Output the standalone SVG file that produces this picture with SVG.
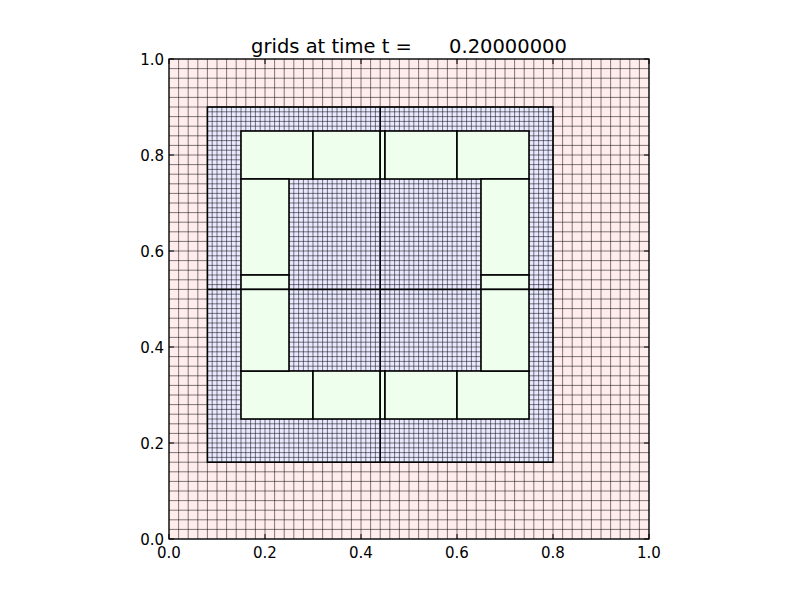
<svg xmlns="http://www.w3.org/2000/svg" width="800" height="600" viewBox="0 0 800 600">
<style>
.grid{fill:none;stroke:#000;stroke-width:0.6;stroke-opacity:0.85}
.pb{stroke:#000;stroke-width:1.6}
.l3{fill:#eeffee}
.tk{font-family:"DejaVu Sans","Liberation Sans",sans-serif;font-size:15px;fill:#000}
.tick{stroke:#000;stroke-width:1}
</style>
<defs>
<path id="l1v" class="grid" d="M0 0v480m9.6-480v480m9.6-480v480m9.6-480v480m9.6-480v480m9.6-480v480m9.6-480v480m9.6-480v480m9.6-480v480m9.6-480v480"/>
<path id="l1h" class="grid" d="M0 0h480m-480 9.6h480m-480 9.6h480m-480 9.6h480m-480 9.6h480m-480 9.6h480m-480 9.6h480m-480 9.6h480m-480 9.6h480m-480 9.6h480"/>
<path id="l2v" class="grid" d="M0 0v355.2m4.8-355.2v355.2m4.8-355.2v355.2m4.8-355.2v355.2m4.8-355.2v355.2m4.8-355.2v355.2m4.8-355.2v355.2m4.8-355.2v355.2m4.8-355.2v355.2m4.8-355.2v355.2"/>
<path id="l2h" class="grid" d="M0 0h345.6m-345.6 4.8h345.6m-345.6 4.8h345.6m-345.6 4.8h345.6m-345.6 4.8h345.6m-345.6 4.8h345.6m-345.6 4.8h345.6m-345.6 4.8h345.6m-345.6 4.8h345.6m-345.6 4.8h345.6"/>
<clipPath id="c1"><rect x="168" y="58" width="482" height="482"/></clipPath>
<clipPath id="c2"><rect x="207" y="106.6" width="346.4" height="356"/></clipPath>
</defs>
<rect width="800" height="600" fill="#fff"/>
<g id="level1">
<rect x="169" y="59" width="480" height="480" fill="#ffecec"/>
<g clip-path="url(#c1)">
<use href="#l1v" x="169" y="59"/><use href="#l1v" x="265" y="59"/><use href="#l1v" x="361" y="59"/><use href="#l1v" x="457" y="59"/><use href="#l1v" x="553" y="59"/><use href="#l1v" x="649" y="59"/>
<use href="#l1h" x="169" y="59"/><use href="#l1h" x="169" y="155"/><use href="#l1h" x="169" y="251"/><use href="#l1h" x="169" y="347"/><use href="#l1h" x="169" y="443"/><use href="#l1h" x="169" y="539"/>
</g>
</g>
<g id="level2">
<rect x="207.4" y="107" width="345.6" height="355.2" fill="#e8e8ff"/>
<g clip-path="url(#c2)">
<use href="#l2v" x="207.4" y="107"/><use href="#l2v" x="255.4" y="107"/><use href="#l2v" x="303.4" y="107"/><use href="#l2v" x="351.4" y="107"/><use href="#l2v" x="399.4" y="107"/><use href="#l2v" x="447.4" y="107"/><use href="#l2v" x="495.4" y="107"/><use href="#l2v" x="543.4" y="107"/>
<use href="#l2h" x="207.4" y="107"/><use href="#l2h" x="207.4" y="155"/><use href="#l2h" x="207.4" y="203"/><use href="#l2h" x="207.4" y="251"/><use href="#l2h" x="207.4" y="299"/><use href="#l2h" x="207.4" y="347"/><use href="#l2h" x="207.4" y="395"/><use href="#l2h" x="207.4" y="443"/>
</g>
<g fill="none" class="pb">
<rect x="207.4" y="107" width="345.6" height="355.2"/>
<path d="M380.2 107V462.2M207.4 289.4H553"/>
</g>
</g>
<g id="level3" class="l3 pb">
<rect x="241" y="131" width="72" height="48"/>
<rect x="313" y="131" width="67.2" height="48"/>
<rect x="380.2" y="131" width="4.8" height="48"/>
<rect x="385" y="131" width="72" height="48"/>
<rect x="457" y="131" width="72" height="48"/>
<rect x="241" y="371" width="72" height="48"/>
<rect x="313" y="371" width="67.2" height="48"/>
<rect x="380.2" y="371" width="4.8" height="48"/>
<rect x="385" y="371" width="72" height="48"/>
<rect x="457" y="371" width="72" height="48"/>
<rect x="241" y="179" width="48" height="96"/>
<rect x="241" y="275" width="48" height="14.4"/>
<rect x="241" y="289.4" width="48" height="81.6"/>
<rect x="481" y="179" width="48" height="96"/>
<rect x="481" y="275" width="48" height="14.4"/>
<rect x="481" y="289.4" width="48" height="81.6"/>
</g>
<g id="axes">
<rect x="169" y="59" width="480" height="480" fill="none" stroke="#000" stroke-width="1.2"/>
<path class="tick" d="M169 539v-5M265 539v-5M361 539v-5M457 539v-5M553 539v-5M649 539v-5M169 59v5M265 59v5M361 59v5M457 59v5M553 59v5M649 59v5M169 539h5M169 443h5M169 347h5M169 251h5M169 155h5M169 59h5M649 539h-5M649 443h-5M649 347h-5M649 251h-5M649 155h-5M649 59h-5"/>
<g class="tk" text-anchor="middle">
<text x="169" y="558">0.0</text>
<text x="265" y="558">0.2</text>
<text x="361" y="558">0.4</text>
<text x="457" y="558">0.6</text>
<text x="553" y="558">0.8</text>
<text x="649" y="558">1.0</text>
</g>
<g class="tk" text-anchor="end">
<text x="164" y="544.5">0.0</text>
<text x="164" y="448.5">0.2</text>
<text x="164" y="352.5">0.4</text>
<text x="164" y="256.5">0.6</text>
<text x="164" y="160.5">0.8</text>
<text x="164" y="64.5">1.0</text>
</g>
<text x="409" y="53" text-anchor="middle" xml:space="preserve" font-family="DejaVu Sans, Liberation Sans, sans-serif" font-size="19.5">grids at time t =      0.20000000</text>
</g>
</svg>
